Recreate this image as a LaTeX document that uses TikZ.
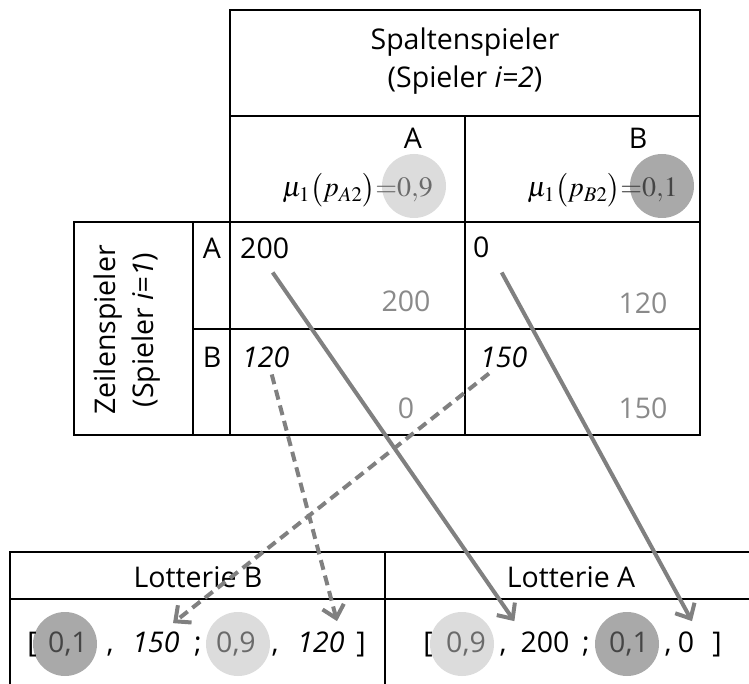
\documentclass[tikz,border=0pt]{standalone}
\usepackage{mathptmx}
\usepackage{fontspec}
\setmainfont{Open Sans}
\usetikzlibrary{arrows.meta}
\definecolor{payoffgray}{HTML}{8A8A8A}
\definecolor{arrowgray}{HTML}{808080}
\definecolor{lightdisc}{HTML}{DCDCDC}
\definecolor{darkdisc}{HTML}{A9A9A9}
\definecolor{onlight}{HTML}{6A6A6A}
\definecolor{ondark}{HTML}{454545}

\begin{document}
\begin{tikzpicture}[x=1pt,y=-1pt,
  grid/.style={draw=black, line width=1.8pt},
  lbl/.style={inner sep=0pt, font=\fontsize{28.5}{38}\selectfont},
  own/.style={lbl, text=payoffgray},
  mathlbl/.style={inner sep=0pt, font=\fontsize{28}{32}\selectfont},
  disc/.style={circle, inner sep=0pt, minimum size=64pt},
  link/.style={draw=arrowgray, line width=4pt, -{Straight Barb[length=12pt,width=22pt]}},
  dashlink/.style={link, dash pattern=on 10pt off 6pt},
]
\useasboundingbox (0,0) rectangle (749,684);

% probability discs
\node[disc, fill=lightdisc] (discA) at (414,186) {};
\node[disc, fill=darkdisc]  (discB) at (662,186) {};
\node[disc, fill=darkdisc]  (discB1) at (65,644) {};
\node[disc, fill=lightdisc] (discB9) at (238,644) {};
\node[disc, fill=lightdisc] (discA9) at (462,644) {};
\node[disc, fill=darkdisc]  (discA1) at (627,644) {};

% payoff matrix
\draw[grid] (230,10) rectangle (700,435);
\draw[grid] (230,116) -- (700,116);
\draw[grid] (465,116) -- (465,435);
\draw[grid] (74,222) rectangle (230,435);
\draw[grid] (74,222) -- (700,222);
\draw[grid] (193,222) -- (193,435);
\draw[grid] (193,329) -- (700,329);

% lottery table
\begin{scope}
\clip (0,0) rectangle (749,684);
\draw[grid] (10,700) -- (10,552) -- (760,552);
\draw[grid] (10,599) -- (760,599);
\draw[grid] (385,552) -- (385,700);
\end{scope}

% headers
\node[lbl, align=center] (colplayer) at (465,61) {Spaltenspieler\\(Spieler \textit{i=2})};
\node[lbl, rotate=90, align=center] (rowplayer) at (127,330) {Zeilenspieler\\(Spieler \textit{i=1})};
\node[lbl] (colA) at (413,138) {A};
\node[lbl] (colB) at (638,138) {B};
\node[lbl] (rowA) at (212,248) {A};
\node[lbl] (rowB) at (212,357) {B};
\node[mathlbl, anchor=base east] (probA) at (433,197) {$\mu_1\bigl(p_{A2}\bigr)${\color{onlight}${=}0{,}9$}};
\node[mathlbl, anchor=base east] (probB) at (678,197) {$\mu_1\bigl(p_{B2}\bigr)${\color{ondark}${=}0{,}1$}};

% payoffs: row player (black), column player (grey)
\node[lbl, anchor=base west] (aa) at (240,259) {200};
\node[lbl, anchor=base west] (ab) at (473,258) {0};
\node[lbl, anchor=base west] (ba) at (242,367) {\textit{120}};
\node[lbl, anchor=base west] (bb) at (480,367) {\textit{150}};
\node[own, anchor=base] (aa2) at (406,312) {200};
\node[own, anchor=base] (ab2) at (643,313) {120};
\node[own, anchor=base] (ba2) at (406,418) {0};
\node[own, anchor=base] (bb2) at (643,418) {150};

% lottery headers
\node[lbl] (lotB) at (198,577) {Lotterie B};
\node[lbl] (lotA) at (571,577) {Lotterie A};

% lottery B
\node[lbl, anchor=base] (lbo) at (32,652) {[};
\node[lbl, anchor=base, text=ondark] (lbp1) at (68,652) {0,1};
\node[lbl, anchor=base] (lbc1) at (110,652) {,};
\node[lbl, anchor=base] (lb150) at (156,652) {\textit{150}};
\node[lbl, anchor=base] (lbs) at (198,652) {;};
\node[lbl, anchor=base, text=onlight] (lbp9) at (236,652) {0,9};
\node[lbl, anchor=base] (lbc2) at (275,652) {,};
\node[lbl, anchor=base] (lb120) at (321,652) {\textit{120}};
\node[lbl, anchor=base] (lbe) at (361,652) {]};

% lottery A
\node[lbl, anchor=base] (lao) at (428,652) {[};
\node[lbl, anchor=base, text=onlight] (lap9) at (466,652) {0,9};
\node[lbl, anchor=base] (lac1) at (503,652) {,};
\node[lbl, anchor=base] (la200) at (545,652) {200};
\node[lbl, anchor=base] (las) at (586,652) {;};
\node[lbl, anchor=base, text=ondark] (lap1) at (629,652) {0,1};
\node[lbl, anchor=base] (lac2) at (668,652) {,};
\node[lbl, anchor=base] (la0) at (686,652) {0};
\node[lbl, anchor=base] (lae) at (717,652) {]};

% payoff transfers
\draw[link] ([xshift=8pt,yshift=-13pt]aa.south) -- ([xshift=-6pt,yshift=10pt]la200.north west);
\draw[link] ([xshift=12pt,yshift=-14pt]ab.south east) -- ([xshift=6pt,yshift=10pt]la0.north);
\draw[dashlink] ([xshift=9pt,yshift=-6pt]bb.south west) -- ([xshift=17pt,yshift=8pt]lb150.north);
\draw[dashlink] ([xshift=6pt,yshift=-7pt]ba.south) -- ([xshift=16pt,yshift=10pt]lb120.north);
\end{tikzpicture}
\end{document}
